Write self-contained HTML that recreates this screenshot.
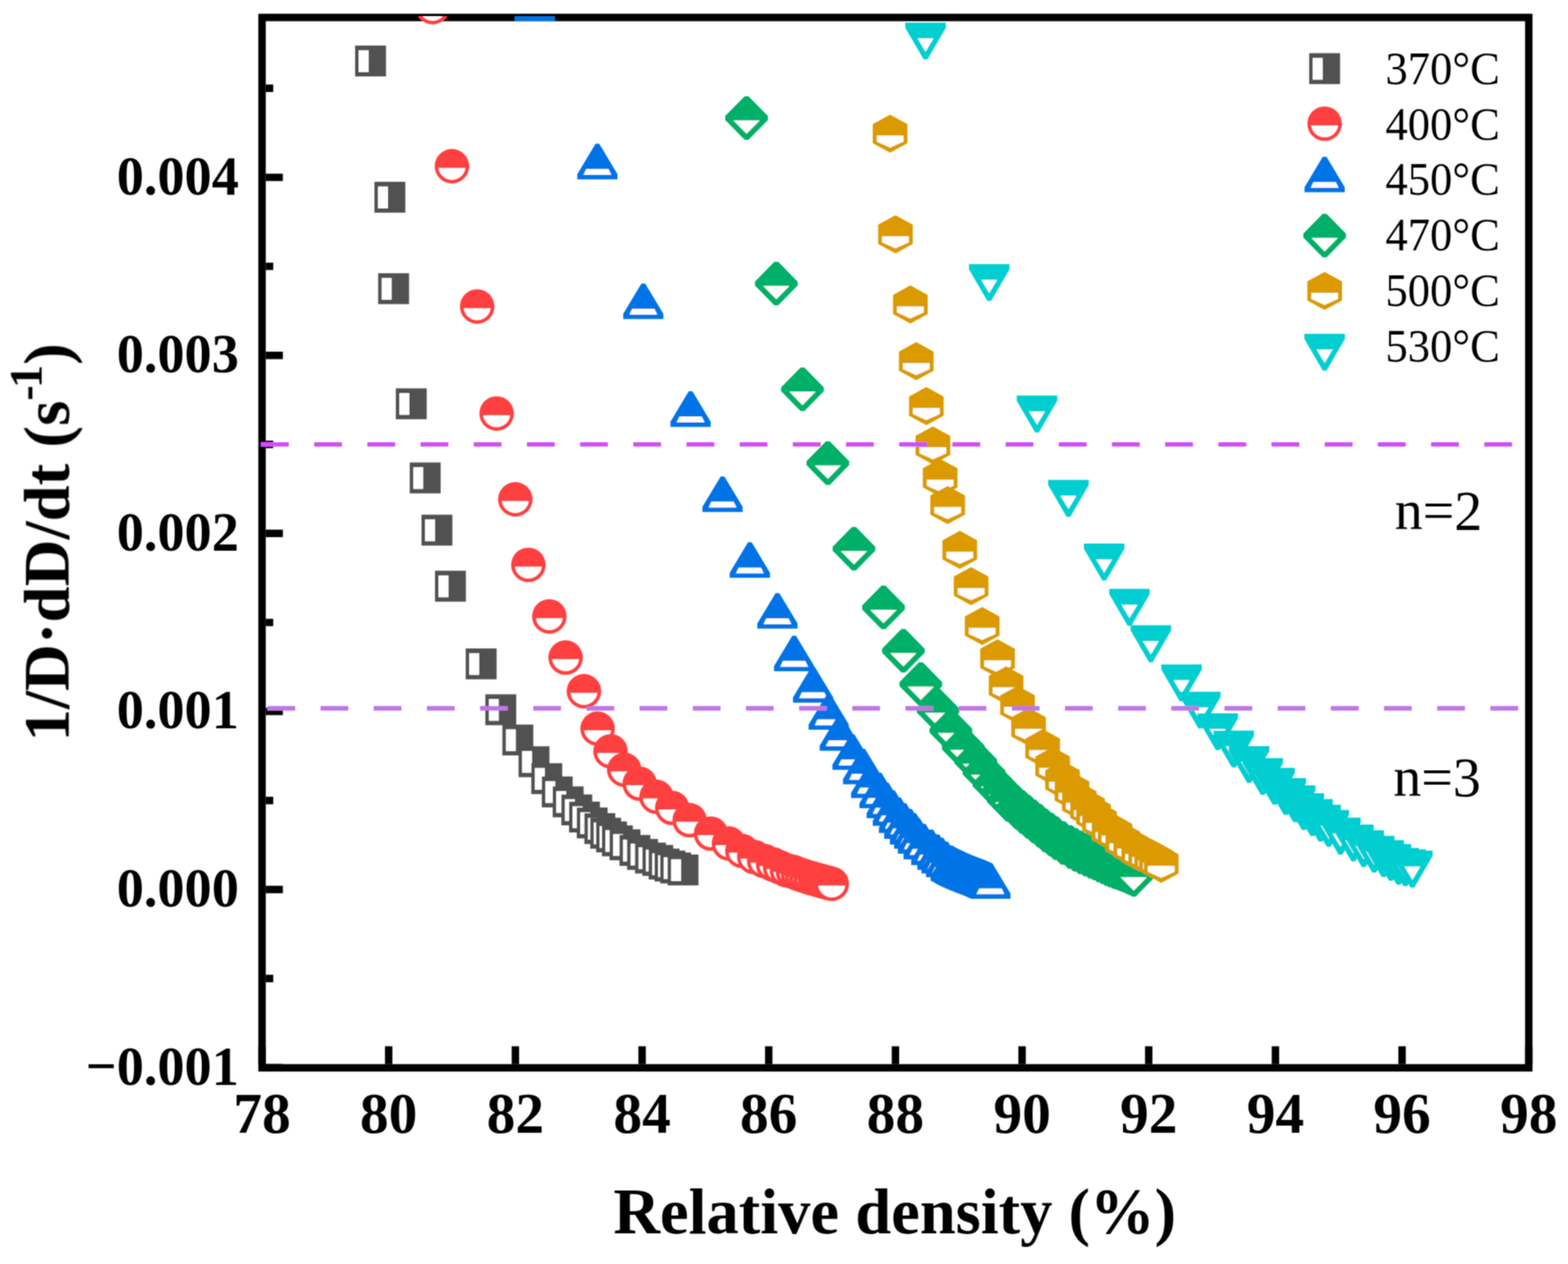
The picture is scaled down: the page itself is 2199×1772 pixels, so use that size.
<!DOCTYPE html><html><head><meta charset="utf-8"><title>Sintering rate vs relative density</title><style>html,body{margin:0;padding:0;background:#fff}svg{display:block}text{font-family:"Liberation Serif","Times New Roman",serif}</style></head><body>
<svg width="2199" height="1772" viewBox="0 0 2199 1772">
<defs>
<g id="sq"><rect x="-21.65" y="-21.65" width="43.3" height="43.3" fill="#515151"/><rect x="-16.7" y="-15" width="13.9" height="30.5" fill="#fff"/></g>
<g id="ci"><circle r="24.2" fill="#FF4040"/><path d="M-18.83 2.5H18.83A19 19 0 0 1 -18.83 2.5Z" fill="#fff"/></g>
<g id="tu"><path d="M-2.6 -31.4H2.6L28.2 11.2V18.4H-28.2V11.2Z" fill="#0073E6"/><path d="M-15.6 4H15.6L19.6 12.1H-19.6Z" fill="#fff"/></g>
<g id="di"><path d="M-2.7 -30.5H2.7L29.9 -2.8V2.8L2.7 30.5H-2.7L-29.9 2.8V-2.8Z" fill="#00B068"/><path d="M-18.5 3.3H18.5L0 22.1Z" fill="#fff"/></g>
<g id="hx"><path d="M0 -26.7L24.3 -13.4V13.4L0 26.7L-24.3 13.4V-13.4Z" fill="#DB9A00"/><path d="M-18.8 2.7H18.8V11.2L0 19.7L-18.8 11.2Z" fill="#fff"/></g>
<g id="td"><path d="M-28.4 -17.8H28.4V-10.6L2.6 33.8H-2.6L-28.4 -10.6Z" fill="#00CED1"/><path d="M-11.2 4.3H11.2L0 23Z" fill="#fff"/></g>
<filter id="bl" x="0" y="0" width="2199" height="1772" filterUnits="userSpaceOnUse"><feConvolveMatrix order="3" kernelMatrix="1 2 1 2 4 2 1 2 1" divisor="16" edgeMode="duplicate"/></filter>
<clipPath id="pc"><rect x="367.5" y="23" width="1776.5" height="1474.0"/></clipPath>
</defs>
<rect width="2199" height="1772" fill="#fff"/>
<g filter="url(#bl)">
<rect x="367.5" y="24.5" width="1776.5" height="1472.5" fill="none" stroke="#000" stroke-width="10.4"/>
<path d="M367.5 1491.8V1466.8M545.1 1491.8V1466.8M722.8 1491.8V1466.8M900.5 1491.8V1466.8M1078.1 1491.8V1466.8M1255.8 1491.8V1466.8M1433.4 1491.8V1466.8M1611 1491.8V1466.8M1788.7 1491.8V1466.8M1966.3 1491.8V1466.8M2144 1491.8V1466.8M372.7 1496.6H396.7M372.7 1371.8H383.2M372.7 1247H396.7M372.7 1122.2H383.2M372.7 997.4H396.7M372.7 872.6H383.2M372.7 747.8H396.7M372.7 623H383.2M372.7 498.2H396.7M372.7 373.4H383.2M372.7 248.6H396.7M372.7 123.8H383.2" stroke="#000" stroke-width="10.4" fill="none"/>
<g font-size="80.5" font-weight="bold"><text x="367.5" y="1588" text-anchor="middle">78</text><text x="545.1" y="1588" text-anchor="middle">80</text><text x="722.8" y="1588" text-anchor="middle">82</text><text x="900.5" y="1588" text-anchor="middle">84</text><text x="1078.1" y="1588" text-anchor="middle">86</text><text x="1255.8" y="1588" text-anchor="middle">88</text><text x="1433.4" y="1588" text-anchor="middle">90</text><text x="1611" y="1588" text-anchor="middle">92</text><text x="1788.7" y="1588" text-anchor="middle">94</text><text x="1966.3" y="1588" text-anchor="middle">96</text><text x="2144" y="1588" text-anchor="middle">98</text></g>
<g font-size="78.5" font-weight="bold"><text transform="translate(335 1520.6) scale(0.97 1)" text-anchor="end">−0.001</text><text transform="translate(335 1271) scale(0.97 1)" text-anchor="end">0.000</text><text transform="translate(335 1021.4) scale(0.97 1)" text-anchor="end">0.001</text><text transform="translate(335 771.8) scale(0.97 1)" text-anchor="end">0.002</text><text transform="translate(335 522.2) scale(0.97 1)" text-anchor="end">0.003</text><text transform="translate(335 272.6) scale(0.97 1)" text-anchor="end">0.004</text></g>
<text x="1254.8" y="1728.7" text-anchor="middle" font-size="90.5" font-weight="bold">Relative density (%)</text>
<text transform="translate(96.4 1039.5) rotate(-90)" font-size="91" font-weight="bold">1/D·dD/dt (s<tspan dy="-38" font-size="65">-</tspan><tspan dx="-4" font-size="65">1</tspan><tspan dy="38">)</tspan></text>
<g clip-path="url(#pc)">
<use href="#sq" x="519.7" y="85.5"/>
<use href="#sq" x="546.8" y="276.5"/>
<use href="#sq" x="552" y="404.7"/>
<use href="#sq" x="576.8" y="566.1"/>
<use href="#sq" x="596.3" y="670"/>
<use href="#sq" x="612.8" y="743.2"/>
<use href="#sq" x="631.7" y="821.8"/>
<use href="#sq" x="674.8" y="930.7"/>
<use href="#sq" x="702.3" y="995"/>
<use href="#sq" x="726.2" y="1037.4"/>
<use href="#sq" x="748.9" y="1067.9"/>
<use href="#sq" x="766.8" y="1091.6"/>
<use href="#sq" x="781.5" y="1110.2"/>
<use href="#sq" x="796.8" y="1124.1"/>
<use href="#sq" x="808.9" y="1135.4"/>
<use href="#sq" x="819.7" y="1145.4"/>
<use href="#sq" x="830.5" y="1153.7"/>
<use href="#sq" x="841.2" y="1161.6"/>
<use href="#sq" x="849.4" y="1168.1"/>
<use href="#sq" x="857.6" y="1173.2"/>
<use href="#sq" x="865.8" y="1178.8"/>
<use href="#sq" x="876.5" y="1184.3"/>
<use href="#sq" x="890.4" y="1192.2"/>
<use href="#sq" x="901.1" y="1197.8"/>
<use href="#sq" x="912.2" y="1202.9"/>
<use href="#sq" x="922.5" y="1206.2"/>
<use href="#sq" x="931.3" y="1211.3"/>
<use href="#sq" x="939.6" y="1214.1"/>
<use href="#sq" x="947.5" y="1216.8"/>
<use href="#sq" x="957.9" y="1219.6"/>
<use href="#ci" x="606.7" y="10"/>
<use href="#ci" x="633.8" y="233"/>
<use href="#ci" x="669.2" y="429.7"/>
<use href="#ci" x="696.5" y="579.7"/>
<use href="#ci" x="722.7" y="700"/>
<use href="#ci" x="741" y="791.9"/>
<use href="#ci" x="770.4" y="864.2"/>
<use href="#ci" x="793.2" y="921.8"/>
<use href="#ci" x="818.9" y="969"/>
<use href="#ci" x="838.1" y="1021.5"/>
<use href="#ci" x="856.2" y="1053.2"/>
<use href="#ci" x="875.4" y="1079"/>
<use href="#ci" x="897" y="1098.6"/>
<use href="#ci" x="920.5" y="1117"/>
<use href="#ci" x="942.6" y="1132.6"/>
<use href="#ci" x="967" y="1149.8"/>
<use href="#ci" x="997" y="1168.6"/>
<use href="#ci" x="1022.1" y="1182.5"/>
<use href="#ci" x="1040.9" y="1193"/>
<use href="#ci" x="1057.6" y="1201.4"/>
<use href="#ci" x="1071.5" y="1206.9"/>
<use href="#ci" x="1084" y="1211.8"/>
<use href="#ci" x="1093.8" y="1216"/>
<use href="#ci" x="1103.5" y="1220.1"/>
<use href="#ci" x="1111.9" y="1222.2"/>
<use href="#ci" x="1118.9" y="1225"/>
<use href="#ci" x="1125" y="1227"/>
<use href="#ci" x="1131" y="1229"/>
<use href="#ci" x="1137" y="1230.8"/>
<use href="#ci" x="1143" y="1232.5"/>
<use href="#ci" x="1148" y="1234"/>
<use href="#ci" x="1153" y="1235.3"/>
<use href="#ci" x="1158" y="1236.6"/>
<use href="#ci" x="1162.5" y="1237.8"/>
<use href="#ci" x="1166.5" y="1239"/>
<use href="#tu" x="750" y="10.6"/>
<use href="#tu" x="837.8" y="233"/>
<use href="#tu" x="902.2" y="428.9"/>
<use href="#tu" x="968.5" y="580"/>
<use href="#tu" x="1013.3" y="699.3"/>
<use href="#tu" x="1051.6" y="791.7"/>
<use href="#tu" x="1090.3" y="862.9"/>
<use href="#tu" x="1113.7" y="922.6"/>
<use href="#tu" x="1140.3" y="966.6"/>
<use href="#tu" x="1162.2" y="1004.6"/>
<use href="#tu" x="1177.8" y="1034"/>
<use href="#tu" x="1195.6" y="1060.8"/>
<use href="#tu" x="1210.5" y="1081.1"/>
<use href="#tu" x="1221.8" y="1100.3"/>
<use href="#tu" x="1233.5" y="1114.7"/>
<use href="#tu" x="1243.6" y="1128.6"/>
<use href="#tu" x="1252.2" y="1139.3"/>
<use href="#tu" x="1260.7" y="1149.4"/>
<use href="#tu" x="1268.2" y="1157.5"/>
<use href="#tu" x="1276.2" y="1165.5"/>
<use href="#tu" x="1282.1" y="1171.3"/>
<use href="#tu" x="1287.4" y="1178.3"/>
<use href="#tu" x="1295.4" y="1186.3"/>
<use href="#tu" x="1306.1" y="1194.3"/>
<use href="#tu" x="1314.7" y="1201.2"/>
<use href="#tu" x="1320.5" y="1206"/>
<use href="#tu" x="1326.9" y="1211.4"/>
<use href="#tu" x="1333.3" y="1216.7"/>
<use href="#tu" x="1335.5" y="1217.9"/>
<use href="#tu" x="1337.7" y="1219.1"/>
<use href="#tu" x="1339.9" y="1220.3"/>
<use href="#tu" x="1342" y="1221.5"/>
<use href="#tu" x="1344.2" y="1222.5"/>
<use href="#tu" x="1346.3" y="1223.5"/>
<use href="#tu" x="1348.3" y="1224.5"/>
<use href="#tu" x="1350.4" y="1225.5"/>
<use href="#tu" x="1352.4" y="1226.4"/>
<use href="#tu" x="1354.4" y="1227.3"/>
<use href="#tu" x="1356.4" y="1228.1"/>
<use href="#tu" x="1358.4" y="1229"/>
<use href="#tu" x="1360.3" y="1229.8"/>
<use href="#tu" x="1362.3" y="1230.6"/>
<use href="#tu" x="1364.2" y="1231.4"/>
<use href="#tu" x="1366" y="1232.2"/>
<use href="#tu" x="1367.9" y="1232.9"/>
<use href="#tu" x="1369.7" y="1233.6"/>
<use href="#tu" x="1371.5" y="1234.2"/>
<use href="#tu" x="1373.3" y="1234.9"/>
<use href="#tu" x="1375.1" y="1235.6"/>
<use href="#tu" x="1376.9" y="1236.2"/>
<use href="#tu" x="1378.6" y="1236.9"/>
<use href="#tu" x="1380.3" y="1237.6"/>
<use href="#tu" x="1382" y="1238.4"/>
<use href="#tu" x="1383.7" y="1239.1"/>
<use href="#tu" x="1385.4" y="1239.9"/>
<use href="#tu" x="1387" y="1240.6"/>
<use href="#tu" x="1389" y="1241.5"/>
<use href="#di" x="1047" y="165.4"/>
<use href="#di" x="1088.7" y="397.5"/>
<use href="#di" x="1125.4" y="545.8"/>
<use href="#di" x="1161" y="649.2"/>
<use href="#di" x="1197.6" y="769.2"/>
<use href="#di" x="1239" y="851.6"/>
<use href="#di" x="1266.9" y="912.2"/>
<use href="#di" x="1291.4" y="959.1"/>
<use href="#di" x="1315.5" y="996"/>
<use href="#di" x="1333.5" y="1024.3"/>
<use href="#di" x="1351" y="1048"/>
<use href="#di" x="1368.5" y="1067.5"/>
<use href="#di" x="1380" y="1083"/>
<use href="#di" x="1394" y="1099.5"/>
<use href="#di" x="1405" y="1110.5"/>
<use href="#di" x="1414" y="1121.5"/>
<use href="#di" x="1426.3" y="1132"/>
<use href="#di" x="1434" y="1138.4"/>
<use href="#di" x="1441.9" y="1145"/>
<use href="#di" x="1450" y="1151.5"/>
<use href="#di" x="1458" y="1157.8"/>
<use href="#di" x="1466" y="1164.2"/>
<use href="#di" x="1474" y="1170"/>
<use href="#di" x="1480.9" y="1174.9"/>
<use href="#di" x="1490.9" y="1181.7"/>
<use href="#di" x="1501" y="1187.5"/>
<use href="#di" x="1508" y="1191.3"/>
<use href="#di" x="1515.5" y="1194.9"/>
<use href="#di" x="1522.6" y="1197.9"/>
<use href="#di" x="1529.3" y="1200.9"/>
<use href="#di" x="1535.6" y="1203.6"/>
<use href="#di" x="1541.6" y="1206.4"/>
<use href="#di" x="1547.3" y="1208.9"/>
<use href="#di" x="1552.6" y="1211.4"/>
<use href="#di" x="1557.7" y="1213.5"/>
<use href="#di" x="1562.4" y="1215.2"/>
<use href="#di" x="1566.9" y="1216.8"/>
<use href="#di" x="1571.2" y="1218.3"/>
<use href="#di" x="1575.2" y="1219.7"/>
<use href="#di" x="1579.1" y="1221.2"/>
<use href="#di" x="1582.7" y="1222.9"/>
<use href="#di" x="1586.1" y="1224.6"/>
<use href="#di" x="1590" y="1226.5"/>
<use href="#hx" x="1248.3" y="187.4"/>
<use href="#hx" x="1255.8" y="328.5"/>
<use href="#hx" x="1276.7" y="426.8"/>
<use href="#hx" x="1285" y="506.3"/>
<use href="#hx" x="1299.1" y="569.3"/>
<use href="#hx" x="1308.3" y="624.4"/>
<use href="#hx" x="1318.5" y="669.9"/>
<use href="#hx" x="1329" y="708"/>
<use href="#hx" x="1346" y="770.8"/>
<use href="#hx" x="1361.9" y="821.7"/>
<use href="#hx" x="1377.4" y="877.6"/>
<use href="#hx" x="1399" y="923"/>
<use href="#hx" x="1411" y="960.8"/>
<use href="#hx" x="1427" y="988.2"/>
<use href="#hx" x="1442.5" y="1019"/>
<use href="#hx" x="1462.2" y="1048.8"/>
<use href="#hx" x="1476.2" y="1073.9"/>
<use href="#hx" x="1490.1" y="1093.2"/>
<use href="#hx" x="1503.4" y="1108.9"/>
<use href="#hx" x="1513.7" y="1122.8"/>
<use href="#hx" x="1525.1" y="1133"/>
<use href="#hx" x="1533.6" y="1141.5"/>
<use href="#hx" x="1542" y="1151.1"/>
<use href="#hx" x="1555.3" y="1163.8"/>
<use href="#hx" x="1563.8" y="1168.6"/>
<use href="#hx" x="1574.6" y="1179.5"/>
<use href="#hx" x="1585.7" y="1187"/>
<use href="#hx" x="1596.9" y="1194.6"/>
<use href="#hx" x="1606.6" y="1198.8"/>
<use href="#hx" x="1615" y="1203"/>
<use href="#hx" x="1621.7" y="1206.7"/>
<use href="#hx" x="1628.5" y="1211"/>
<use href="#td" x="1298" y="49.5"/>
<use href="#td" x="1387.3" y="388"/>
<use href="#td" x="1454.3" y="572.4"/>
<use href="#td" x="1498.4" y="690.6"/>
<use href="#td" x="1548.5" y="779.9"/>
<use href="#td" x="1584" y="843.4"/>
<use href="#td" x="1614" y="894.4"/>
<use href="#td" x="1657" y="949.2"/>
<use href="#td" x="1683.3" y="987.5"/>
<use href="#td" x="1707.8" y="1017.7"/>
<use href="#td" x="1730.2" y="1042"/>
<use href="#td" x="1751.7" y="1063.7"/>
<use href="#td" x="1770.8" y="1080.5"/>
<use href="#td" x="1787.5" y="1094.3"/>
<use href="#td" x="1803.1" y="1108.5"/>
<use href="#td" x="1816.4" y="1118.8"/>
<use href="#td" x="1828.5" y="1129.7"/>
<use href="#td" x="1840.6" y="1138.1"/>
<use href="#td" x="1852.1" y="1146"/>
<use href="#td" x="1863.5" y="1153.3"/>
<use href="#td" x="1879.9" y="1164.1"/>
<use href="#td" x="1898" y="1173.8"/>
<use href="#td" x="1912.5" y="1181.7"/>
<use href="#td" x="1927.1" y="1189.5"/>
<use href="#td" x="1940.4" y="1195.6"/>
<use href="#td" x="1950.7" y="1201"/>
<use href="#td" x="1961.5" y="1206.5"/>
<use href="#td" x="1971" y="1208.5"/>
<use href="#td" x="1980.8" y="1210.4"/>
</g>
<path d="M366 623H2139.0" stroke="#D24DFF" stroke-width="6" stroke-dasharray="39 35.59"/>
<path d="M375 993H2139.0" stroke="#C076E4" stroke-width="6.5" stroke-dasharray="38.9 35.67"/>
<use href="#sq" x="1857.7" y="96.2"/>
<text transform="translate(1943 117.6) scale(0.955 1)" font-size="65.5">370°C</text>
<use href="#ci" x="1857.7" y="173.4"/>
<text transform="translate(1943 195.5) scale(0.955 1)" font-size="65.5">400°C</text>
<use href="#tu" x="1857.7" y="251.2"/>
<text transform="translate(1943 273.4) scale(0.955 1)" font-size="65.5">450°C</text>
<use href="#di" x="1857.7" y="330.3"/>
<text transform="translate(1943 351.3) scale(0.955 1)" font-size="65.5">470°C</text>
<use href="#hx" x="1857.7" y="407.9"/>
<text transform="translate(1943 429.2) scale(0.955 1)" font-size="65.5">500°C</text>
<use href="#td" x="1857.7" y="485.7"/>
<text transform="translate(1943 507.1) scale(0.955 1)" font-size="65.5">530°C</text>
<text x="1956" y="741.5" font-size="78.5">n=2</text>
<text x="1954" y="1115.6" font-size="78.5">n=3</text>
</g>
</svg></body></html>
